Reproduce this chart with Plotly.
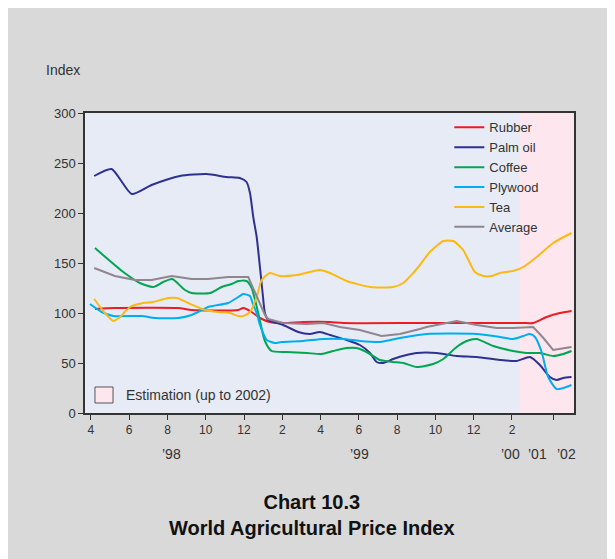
import plotly.graph_objects as go

# x values are month indices (Jan 1998 = 0); the estimation section after Feb 2000 is annual
rubber_x = [3.21, 4.25, 7.56, 8.26, 10.70, 10.96, 11.40, 11.83, 12.35, 13.05, 14.09, 15.49, 16.18, 20.19, 25.06, 25.59, 26.11, 26.81, 27.50, 28.11]
rubber_y = [104, 105, 105, 103, 103, 105, 101, 95, 91, 90, 91, 91, 90, 90, 90, 90, 90, 96, 100, 102]

palm_x = [3.17, 4.08, 5.13, 6.17, 7.65, 9.04, 10.09, 10.78, 11.13, 11.31, 11.48, 11.66, 11.83, 11.97, 12.09, 12.26, 13.05, 13.83, 14.44, 14.96, 15.49, 16.36, 17.05, 17.58, 17.93, 18.27, 18.79, 19.49, 20.02, 21.06, 22.11, 23.15, 24.37, 25.24, 25.94, 26.46, 26.98, 27.33, 27.68, 28.11]
palm_y = [237, 244, 219, 228, 237, 239, 236, 235, 231, 220, 196, 176, 146, 120, 100, 93, 88, 81, 79, 81, 78, 73, 68, 60, 51, 50, 54, 58, 60, 60, 57, 56, 53, 52, 56, 48, 36, 33, 35, 36]

coffee_x = [3.21, 4.69, 5.56, 6.25, 6.78, 7.25, 7.91, 8.26, 9.22, 9.83, 10.35, 10.70, 11.13, 11.40, 11.74, 12.09, 12.44, 13.22, 14.27, 15.05, 15.66, 16.36, 16.88, 17.40, 18.10, 18.79, 19.32, 20.02, 20.88, 21.41, 22.11, 22.63, 23.15, 24.02, 25.06, 25.76, 26.46, 27.15, 27.68, 28.11]
coffee_y = [165, 141, 130, 126, 131, 134, 123, 120, 120, 126, 129, 132, 132, 125, 100, 72, 62, 61, 60, 59, 62, 65, 65, 61, 53, 51, 50, 46, 49, 54, 66, 72, 74, 67, 62, 60, 60, 57, 59, 62]

plywood_x = [2.95, 3.56, 4.17, 5.65, 6.34, 7.56, 8.26, 9.13, 10.17, 10.70, 10.96, 11.31, 11.48, 11.66, 11.83, 12.09, 12.18, 12.61, 12.96, 14.09, 15.14, 16.18, 17.05, 18.10, 19.14, 20.54, 23.15, 24.37, 25.06, 25.59, 25.94, 26.20, 26.55, 26.89, 27.33, 27.68, 28.11]
plywood_y = [109, 101, 97, 97, 95, 95, 98, 106, 110, 116, 119, 117, 108, 100, 88, 76, 73, 70, 71, 72, 74, 74, 72, 71, 75, 79, 79, 76, 74, 77, 79, 76, 61, 36, 24, 25, 28]

tea_x = [3.17, 3.73, 4.17, 4.52, 5.04, 5.73, 6.25, 7.04, 7.48, 8.08, 8.96, 9.65, 10.26, 10.70, 10.96, 11.31, 11.66, 11.92, 12.35, 12.87, 13.75, 14.96, 15.49, 16.36, 17.58, 18.79, 19.32, 19.84, 20.19, 20.71, 21.41, 21.93, 22.45, 23.06, 23.50, 23.94, 24.37, 25.06, 25.59, 26.29, 27.15, 28.11]
tea_y = [114, 100, 92, 96, 106, 110, 111, 115, 115, 110, 103, 101, 100, 97, 97, 101, 116, 133, 140, 137, 138, 143, 140, 132, 126, 126, 130, 140, 148, 161, 172, 172, 163, 141, 137, 137, 140, 142, 146, 156, 170, 180]

avg_x = [3.17, 4.25, 5.30, 6.17, 7.22, 8.26, 9.13, 10.17, 11.22, 11.57, 11.66, 12.09, 12.26, 13.05, 14.27, 15.14, 16.01, 17.05, 18.19, 19.14, 20.19, 20.54, 22.11, 23.15, 24.20, 25.06, 26.11, 26.64, 27.15, 28.11]
avg_y = [145, 137, 133, 133, 137, 134, 134, 136, 136, 120, 116, 98, 94, 90, 89, 90, 86, 83, 77, 79, 84, 86, 92, 88, 85, 85, 86, 75, 63, 66]

month_tickvals = [3, 5, 7, 9, 11, 13, 15, 17, 19, 21, 23, 25, 27.15]
month_ticktext = ["4", "6", "8", "10", "12", "2", "4", "6", "8", "10", "12", "2", ""]
year_pos = [7.2, 17.05, 24.9, 26.35, 27.87]
year_text = ["’98", "’99", "’00", "’01", "’02"]

estimation_start = 25.41
x_range = [2.69, 28.24]

FONT = "Liberation Sans"
series = [
    ("Rubber", rubber_x, rubber_y, "#ed1c24", "spline"),
    ("Palm oil", palm_x, palm_y, "#2e3192", "spline"),
    ("Coffee", coffee_x, coffee_y, "#00a651", "spline"),
    ("Plywood", plywood_x, plywood_y, "#00aeef", "spline"),
    ("Tea", tea_x, tea_y, "#fdb913", "spline"),
    ("Average", avg_x, avg_y, "#918590", "linear"),
]

fig = go.Figure()
for name, xs, ys, col, shape in series:
    line = dict(color=col, width=2, shape=shape)
    if shape == "spline":
        line["smoothing"] = 0.6
    fig.add_trace(go.Scatter(x=xs, y=ys, name=name, mode="lines", line=line))

fig.add_shape(type="rect", xref="x", yref="y", x0=estimation_start, x1=x_range[1], y0=0, y1=300,
              fillcolor="#fde6ee", line_width=0, layer="below")
# estimation legend box
fig.add_shape(type="rect", xref="paper", yref="paper", x0=0.0204, x1=0.0573, y0=0.0333, y1=0.0867,
              fillcolor="#fde6ee", line=dict(color="#555555", width=1))
fig.add_annotation(text="Estimation (up to 2002)", xref="paper", yref="paper", x=0.080, y=0.06,
                   xanchor="left", yanchor="middle", showarrow=False, font=dict(size=14, color="#333333", family=FONT))

for xp, t in zip(year_pos, year_text):
    fig.add_annotation(text=t, xref="x", yref="paper", x=xp, y=-0.137, xanchor="center", yanchor="middle",
                       showarrow=False, font=dict(size=14, color="#333333", family=FONT))

fig.add_annotation(text="Index", xref="paper", yref="paper", x=-0.084, y=1.143, xanchor="left", yanchor="middle",
                   showarrow=False, font=dict(size=14, color="#333333", family=FONT))
fig.add_annotation(text="<b>Chart 10.3</b><br><b>World Agricultural Price Index</b>", xref="paper", yref="paper",
                   x=(312 - 85) / 489, y=(413 - 515) / 300, xanchor="center", yanchor="middle", showarrow=False,
                   font=dict(size=20, color="#111111", family=FONT), align="center")

fig.update_layout(
    width=615, height=559,
    margin=dict(l=77, r=49, t=105, b=154),
    paper_bgcolor="#d9d9d9",
    plot_bgcolor="#e6ebf5",
    font=dict(family=FONT, size=13, color="#333333"),
    showlegend=True,
    legend=dict(x=0.745, y=1.002, xanchor="left", yanchor="top", bgcolor="rgba(0,0,0,0)",
                font=dict(size=13, color="#333333"), tracegroupgap=0),
    xaxis=dict(range=x_range, tickmode="array", tickvals=month_tickvals, ticktext=month_ticktext,
               ticks="outside", ticklen=5, tickcolor="#333333", showgrid=False, zeroline=False,
               showline=True, linecolor="#333333", linewidth=1.5, mirror=True, tickfont=dict(size=12)),
    yaxis=dict(range=[0, 300], tickvals=[0, 50, 100, 150, 200, 250, 300], ticks="outside", ticklen=5,
               tickcolor="#333333", showgrid=False, zeroline=False, showline=True, linecolor="#333333",
               linewidth=1.5, mirror=True, tickfont=dict(size=13)),
)

fig.write_html("out.html")
